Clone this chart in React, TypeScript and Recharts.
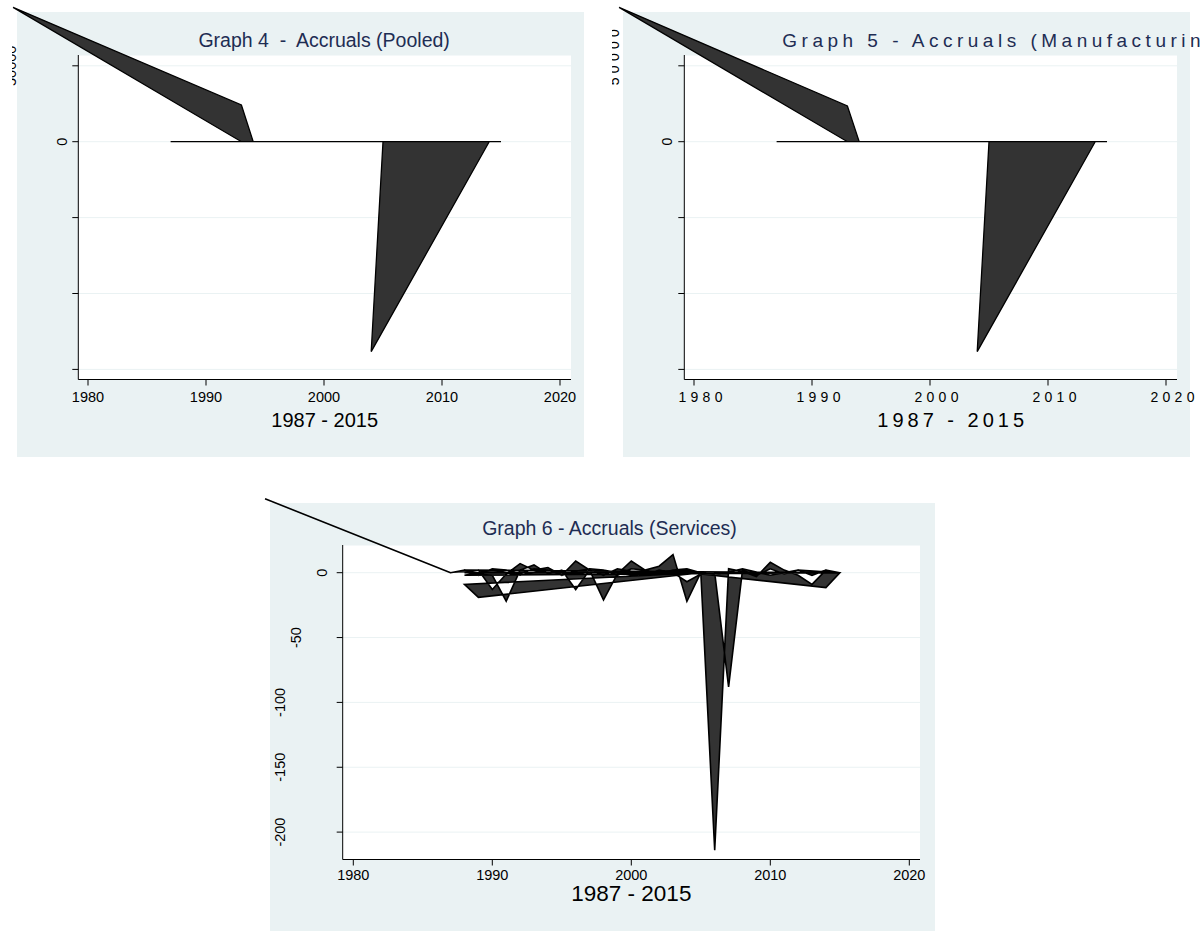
import React from 'react';
import { ComposedChart, Area, XAxis, YAxis, CartesianGrid } from 'recharts';

const FONT = '"Liberation Sans", Arial, Helvetica, sans-serif';
const PANEL_BG = '#eaf2f3';
const GRID = '#eaf2f3';
const TITLE_COLOR = '#1e2d53';
const INK = '#000000';
const AREA_FILL = '#333333';

const yearTicks = [1980, 1990, 2000, 2010, 2020];
const xAxisTitle = '1987 - 2015';

// Graph 4 - pooled. Observations are plotted in file order (the panel is not sorted by year),
// which is what gives the wedge back to the stray 1973 point and the open triangle.
const pooledYear = [1987, 1989, 1991, 1993, 1995, 1997, 1999, 2001, 2003, 2005, 2007, 2009, 2011, 2013, 2015,
  1993, 1973.65, 1993, 1994, 2005, 2004, 2014];
const pooledAccrual = [0, 0, 0, 0, 0, 0, 0, 0, 0, 0, 0, 0, 0, 0, 0,
  0, 88500, 24200, 0, 0, -138300, 0];
const pooledTicks = [50000, 0, -50000, -100000, -150000];

// Graph 5 - manufacturing
const manufYear = [1987, 1989, 1991, 1993, 1995, 1997, 1999, 2001, 2003, 2005, 2007, 2009, 2011, 2013, 2015,
  1993, 1973.65, 1993, 1994, 2005, 2004, 2014];
const manufAccrual = [0, 0, 0, 0, 0, 0, 0, 0, 0, 0, 0, 0, 0, 0, 0,
  0, 88500, 23500, 0, 0, -138300, 0];
const manufTicks = [50000, 0, -50000, -100000, -150000];

// Graph 6 - services, firm after firm
const servicesYear = [
  1987, 1973.65, 1987, 1988, 1989, 1990, 1991, 1992, 1993, 1994, 1995, 1996, 1997, 1998, 1999,
  2000, 2001, 2002, 2003, 2004, 2005,
  1988, 1989, 2005,
  1988, 1989, 1990, 1991, 1992, 1993, 1994, 1995, 1996, 1997, 1998, 1999, 2000, 2001,
  2002, 2003, 2004, 2005, 2006, 2007, 2008, 2009, 2010, 2011, 2012, 2013, 2014, 2015,
  1988, 1989, 1990, 1991, 1992, 1993, 1994, 1995, 1996, 1997, 1998, 1999, 2000, 2001,
  2002, 2003, 2004, 2005, 2014, 2015,
  2006, 2007, 2008, 2009, 2010, 2011, 2012, 2013, 2014, 2015,
  1988, 1990, 1992, 1994, 1996, 1998, 2000, 2002, 2004, 2006, 2008, 2010, 2012, 2015,
];
const servicesAccrual = [
  0, 57, 0, 2, -2, 3, 2, -1, 3, 2, -2, 1, 3, 2, -2,
  3, 2, -1, 2, 3, 0,
  -9, -19, 0,
  0, 2, -13, -1, 7, 2, 4, -2, 9, 2, -21, -1, 9, 2,
  5, 14, -22, 0, -214, 3, 1, -3, 8, 2, -2, -9, 2, 0,
  2, -1, -2, -22, 2, 6, -1, 2, -13, 2, -2, 3, 1, -2,
  2, 0, -7, -1, -11.5, 0,
  0, -88, 2, -2, 3, -1, 2, -2, 2, 0,
  -2, 2, -2, 2, -1, 2, -2, 1, 2, -2, 3, -2, 2, 0,
];
const servicesTicks = [0, -50, -100, -150, -200];

const measureCtx = typeof document !== 'undefined' ? document.createElement('canvas').getContext('2d') : null;
function textWidth(s: string, size: number) {
  if (!measureCtx) return s.length * size * 0.55;
  measureCtx.font = `${size}px "Liberation Sans"`;
  return measureCtx.measureText(s).width;
}

type Layout = {
  box: number[];   // panel background: left, top, right, bottom
  svg: number[];   // drawing surface: left, top, width, height
  plot: number[];  // plot region: left, top, right, bottom
  x1980: number;
  pxPerYear: number;
  yZero: number;
  pxPerUnit: number;
  titleY: number;
  titleSize: number;
  titleCenter?: number;
  tickFont: number;
  xLabelBase: number;
  axisTitleY: number;
  axisTitleSize: number;
  yLabelGap: number;
  yLabelK: number;
  spacing: number;
  titleSpacing: number;
  axisTitleSpacing: number;
  lineWidth: number;
};

const layout4: Layout = {
  box: [16.7, 11.7, 584.5, 457], svg: [12, 0, 588, 470], plot: [78.3, 55, 571, 379.5],
  x1980: 88, pxPerYear: 11.8, yZero: 141.7, pxPerUnit: 75.9 / 50000,
  titleY: 40.5, titleSize: 19.5, tickFont: 14.5, xLabelBase: 22.5, axisTitleY: 420, axisTitleSize: 20,
  yLabelGap: 4, yLabelK: 1.57, spacing: 0, titleSpacing: 0, axisTitleSpacing: 0, lineWidth: 1.3,
};
const layout5: Layout = {
  ...layout4,
  box: [622.7, 11.7, 1190.5, 457], svg: [612, 0, 588, 470], plot: [684.3, 55, 1177, 379.5],
  x1980: 694, titleY: 40, titleSize: 19, tickFont: 14, yLabelK: 1.7,
  spacing: 4.3, titleSpacing: 4.5, axisTitleSpacing: 4,
};
const layout6: Layout = {
  box: [270, 503.3, 935, 931], svg: [262, 490, 678, 443], plot: [342.7, 545, 920, 859.5],
  x1980: 353.3, pxPerYear: 13.9, yZero: 572.7, pxPerUnit: 1.297,
  titleY: 529, titleSize: 19.5, titleCenter: 610, tickFont: 14.5, xLabelBase: 20,
  axisTitleY: 893.5, axisTitleSize: 22.5,
  yLabelGap: 5, yLabelK: 2, spacing: 0, titleSpacing: 0, axisTitleSpacing: 0, lineWidth: 1.6,
};

function Panel({ title, years, values, yTicks, L }: {
  title: string; years: number[]; values: number[]; yTicks: number[]; L: Layout;
}) {
  const [bl, bt, br, bb] = L.box;
  const [sx, sy, sw, sh] = L.svg;
  const [pl, pt, pr, pb] = L.plot;
  const toYear = (px: number) => 1980 + (px - L.x1980) / L.pxPerYear;
  const toValue = (py: number) => (L.yZero - py) / L.pxPerUnit;
  const data = years.map((year, i) => ({ year, accrual: values[i] }));
  const xAxisH = 20;

  // vertical labels; the longer the label the further left it lands (as in the exported graph)
  const YTick = (p: any) => {
    const label = String(p.payload.value);
    const w = textWidth(label, L.tickFont);
    const cx = pl - sx - L.yLabelGap - L.yLabelK * w;
    if (cx + 0.45 * L.tickFont < 0) return <g />;
    const cy = p.y;
    return (
      <text x={cx - w / 2} y={cy} transform={`rotate(-90 ${cx} ${cy})`} textAnchor="start"
        dominantBaseline="central" fontSize={L.tickFont} fontFamily={FONT} fill={INK}
        letterSpacing={L.spacing}>{label}</text>
    );
  };
  const XTick = (p: any) => {
    const label = String(p.payload.value);
    const w = textWidth(label, L.tickFont);
    return (
      <text x={p.x - w / 2} y={pb - sy + L.xLabelBase} textAnchor="start" fontSize={L.tickFont}
        fontFamily={FONT} fill={INK} letterSpacing={L.spacing}>{label}</text>
    );
  };

  // texts start where the unspaced text would start, so letter spacing runs off to the right
  const titleW = textWidth(title, L.titleSize);
  const axisW = textWidth(xAxisTitle, L.axisTitleSize);
  const titleLeft = (L.titleCenter ?? (pl + pr) / 2) - titleW / 2;
  const axisCx = (pl + pr) / 2;
  const surface = { position: 'absolute' as const, left: sx, top: sy };

  return (
    <>
      <div style={{ position: 'absolute', left: bl, top: bt, width: br - bl, height: bb - bt, background: PANEL_BG }} />
      <div style={{
        position: 'absolute', left: titleLeft, top: L.titleY - 0.4885 * L.titleSize,
        fontSize: L.titleSize, lineHeight: `${L.titleSize}px`, whiteSpace: 'pre', color: TITLE_COLOR,
        letterSpacing: L.titleSpacing,
      }}>{title}</div>
      <div style={{
        position: 'absolute', left: axisCx - axisW / 2, top: L.axisTitleY - 0.4885 * L.axisTitleSize,
        fontSize: L.axisTitleSize, lineHeight: `${L.axisTitleSize}px`, whiteSpace: 'pre', color: INK,
        letterSpacing: L.axisTitleSpacing,
      }}>{xAxisTitle}</div>

      <div style={surface}>
        <ComposedChart width={sw} height={sh} data={[]}
          margin={{ top: pt - sy, right: sx + sw - pr, bottom: sy + sh - pb - xAxisH, left: 0 }}>
          <CartesianGrid vertical={false} stroke={GRID} fill="#ffffff" />
          <XAxis type="number" dataKey="year" domain={[toYear(pl), toYear(pr)]} allowDataOverflow
            ticks={yearTicks} height={xAxisH} tickSize={6} axisLine={{ stroke: INK }}
            tickLine={{ stroke: INK }} tick={XTick} interval={0} />
          <YAxis type="number" domain={[toValue(pb), toValue(pt)]} allowDataOverflow
            ticks={yTicks} width={pl - sx} tickSize={6} axisLine={{ stroke: INK }}
            tickLine={{ stroke: INK }} tick={YTick} interval={0} />
        </ComposedChart>
      </div>

      <div style={surface}>
        <ComposedChart width={sw} height={sh} data={data} margin={{ top: 0, right: 0, bottom: 0, left: 0 }}>
          <XAxis hide type="number" dataKey="year" domain={[toYear(sx), toYear(sx + sw)]} allowDataOverflow />
          <YAxis hide type="number" domain={[toValue(sy + sh), toValue(sy)]} allowDataOverflow />
          <Area type="linear" dataKey="accrual" baseValue={0} stroke={INK} strokeWidth={L.lineWidth}
            fill={AREA_FILL} fillOpacity={1} fillRule="evenodd" dot={false} activeDot={false}
            isAnimationActive={false} />
        </ComposedChart>
      </div>
    </>
  );
}

export default function App() {
  return (
    <div style={{
      position: 'absolute', left: 0, top: 0, width: 1200, height: 933, overflow: 'hidden',
      background: '#ffffff', fontFamily: FONT,
    }}>
      <Panel title="Graph 4  -  Accruals (Pooled)" years={pooledYear} values={pooledAccrual} yTicks={pooledTicks} L={layout4} />
      <Panel title="Graph 5 - Accruals (Manufacturing)" years={manufYear} values={manufAccrual} yTicks={manufTicks} L={layout5} />
      <Panel title="Graph 6 - Accruals (Services)" years={servicesYear} values={servicesAccrual} yTicks={servicesTicks} L={layout6} />
    </div>
  );
}
